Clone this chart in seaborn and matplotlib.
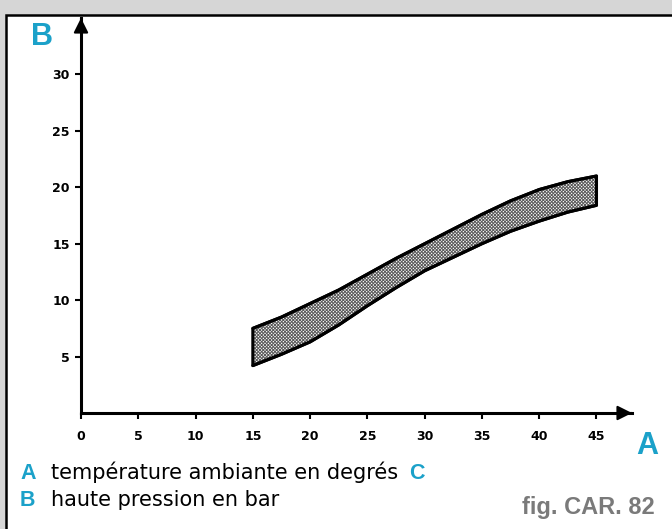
import pandas as pd
import seaborn as sns
import matplotlib.pyplot as plt
from matplotlib.patches import Rectangle

# Données
temperature = [15, 17.5, 20, 22.5, 25, 27.5, 30, 32.5, 35, 37.5, 40, 42.5, 45]
pression_haut = [7.5, 8.5, 9.7, 10.9, 12.3, 13.7, 15.0, 16.3, 17.6, 18.8, 19.8, 20.5, 21.0]
pression_bas = [4.2, 5.2, 6.3, 7.8, 9.5, 11.1, 12.6, 13.8, 15.0, 16.1, 17.0, 17.8, 18.4]
x_ticks = [0, 5, 10, 15, 20, 25, 30, 35, 40, 45]
y_ticks = [5, 10, 15, 20, 25, 30]

df = pd.DataFrame({'T': temperature, 'haut': pression_haut, 'bas': pression_bas})

sns.set_style('white')
plt.rcParams['font.family'] = ['Liberation Sans', 'DejaVu Sans']
plt.rcParams['hatch.linewidth'] = 0.7

cyan = '#1ba1c9'
W, H = 672, 529
fig = plt.figure(figsize=(W / 100, H / 100), dpi=100, facecolor='#d6d6d6')

# cadre blanc
fig.patches.append(Rectangle((5.5 / W, -0.05), 1.1, (H - 14.5) / H + 0.05,
                             transform=fig.transFigure, facecolor='white',
                             edgecolor='black', linewidth=1.8, zorder=-5))

ax = fig.add_axes([81 / W, (H - 413) / H, 551 / W, 395 / H])
ax.set_facecolor('none')

# bande hachurée
ax.fill_between(df['T'], df['bas'], df['haut'], facecolor='white',
                edgecolor='#5a5a5a', hatch='xxxxxxxxxx', linewidth=0)
ax.fill_between(df['T'], df['bas'], df['haut'], facecolor='none',
                edgecolor='black', linewidth=2.2)
sns.lineplot(data=df, x='T', y='haut', color='black', linewidth=2.2, ax=ax)
sns.lineplot(data=df, x='T', y='bas', color='black', linewidth=2.2, ax=ax)

ax.set_xlim(0, 48.1)
ax.set_ylim(0, 35)
ax.set_xticks(x_ticks)
ax.set_yticks(y_ticks)
ax.set_xlabel('')
ax.set_ylabel('')
for s in ['top', 'right']:
    ax.spines[s].set_visible(False)
for s in ['left', 'bottom']:
    ax.spines[s].set_linewidth(2.2)
    ax.spines[s].set_color('black')
ax.tick_params(axis='x', bottom=True, direction='out', length=4.5, width=1.5,
               color='black', pad=7.5, labelsize=9, labelcolor='black')
ax.tick_params(axis='y', left=True, direction='out', length=4.5, width=1.5,
               color='black', pad=3.5, labelsize=9, labelcolor='black')
for lab in ax.get_xticklabels() + ax.get_yticklabels():
    lab.set_family('DejaVu Sans')
    lab.set_fontweight('bold')

# pointes de flèche au bout des axes
ax.annotate('', xy=(0, 1), xytext=(0, 0.999), xycoords='axes fraction',
            arrowprops=dict(arrowstyle='-|>', color='black', lw=1.5,
                            mutation_scale=22, shrinkA=0, shrinkB=0),
            annotation_clip=False)
ax.annotate('', xy=(1, 0), xytext=(0.999, 0), xycoords='axes fraction',
            arrowprops=dict(arrowstyle='-|>', color='black', lw=1.5,
                            mutation_scale=22, shrinkA=0, shrinkB=0),
            annotation_clip=False)

# textes
def px(x, y):
    return x / W, 1 - y / H

fig.text(*px(42, 37), 'B', color=cyan, fontsize=22, fontweight='bold', ha='center', va='center')
fig.text(*px(647, 446), 'A', color=cyan, fontsize=22, fontweight='bold', ha='center', va='center')
fig.text(*px(20, 479), 'A', color=cyan, fontsize=15.5, fontweight='bold', va='baseline')
fig.text(*px(51, 479), 'température ambiante en degrés', color='black', fontsize=15,
         family='DejaVu Sans', va='baseline')
fig.text(*px(409, 479), 'C', color=cyan, fontsize=15.5, fontweight='bold', va='baseline')
fig.text(*px(20, 506), 'B', color=cyan, fontsize=15.5, fontweight='bold', va='baseline')
fig.text(*px(51, 506), 'haute pression en bar', color='black', fontsize=15,
         family='DejaVu Sans', va='baseline')
fig.text(*px(655, 514), 'fig. CAR. 82', color='#7a7a7a', fontsize=17, fontweight='bold',
         ha='right', va='baseline')

plt.savefig('out.png', dpi=100, facecolor=fig.get_facecolor())
